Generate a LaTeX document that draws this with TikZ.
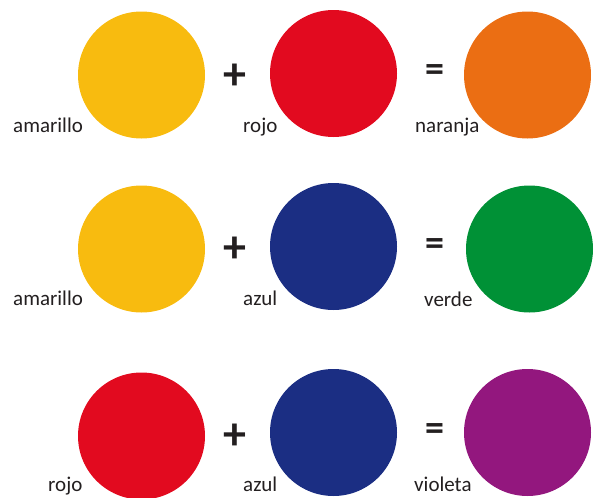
\documentclass[tikz,border=0pt]{standalone}
\usepackage{fontspec}
\setmainfont{Carlito}
\definecolor{cyellow}{HTML}{F8BB0F}
\definecolor{cred}{HTML}{E20A1F}
\definecolor{corange}{HTML}{EB6E13}
\definecolor{cblue}{HTML}{1B2E83}
\definecolor{cgreen}{HTML}{009136}
\definecolor{cviolet}{HTML}{93177E}
\definecolor{ctext}{HTML}{231F20}
\begin{document}
\begin{tikzpicture}[x=1pt,y=-1pt,
  blob/.style={circle,inner sep=0pt,minimum size=127pt,fill=#1},
  lbl/.style={anchor=base west,inner sep=0pt,text=ctext,font=\fontsize{21}{21}\selectfont},
  op/.style={inner sep=0pt,text=ctext,font=\fontsize{46}{46}\selectfont\bfseries},
  eqop/.style={inner sep=0pt,text=ctext,font=\fontsize{38}{38}\selectfont\bfseries}]
\useasboundingbox (0,0) rectangle (598,498);
% row 1
\node[blob=cyellow] (y1) at (141.5,75) {};
\node[blob=cred] (r1) at (333.5,73.5) {};
\node[blob=corange] (o1) at (527.5,75) {};
\node[op] (p1) at (235,77) {+};
\node[eqop] (e1) at (434.5,73) {=};
\node[lbl] (ly1) at (13,132) {amarillo};
\node[lbl] (lr1) at (243,132) {rojo};
\node[lbl] (lo1) at (415,132) {naranja};
% row 2
\node[blob=cyellow] (y2) at (141.5,249) {};
\node[blob=cblue] (b2) at (333.5,246.5) {};
\node[blob=cgreen] (g2) at (529.5,249) {};
\node[op] (p2) at (235,250) {+};
\node[eqop] (e2) at (434.5,247) {=};
\node[lbl] (ly2) at (13,305) {amarillo};
\node[lbl] (lb2) at (243,305) {azul};
\node[lbl] (lg2) at (424,306) {verde};
% row 3
\node[blob=cred] (r3) at (141.5,436) {};
\node[blob=cblue] (b3) at (333.5,432.5) {};
\node[blob=cviolet] (v3) at (527.5,432.5) {};
\node[op] (p3) at (235,437) {+};
\node[eqop] (e3) at (434.5,432.5) {=};
\node[lbl] (lr3) at (48,491) {rojo};
\node[lbl] (lb3) at (243,491) {azul};
\node[lbl] (lv3) at (414,491) {violeta};
\end{tikzpicture}
\end{document}
